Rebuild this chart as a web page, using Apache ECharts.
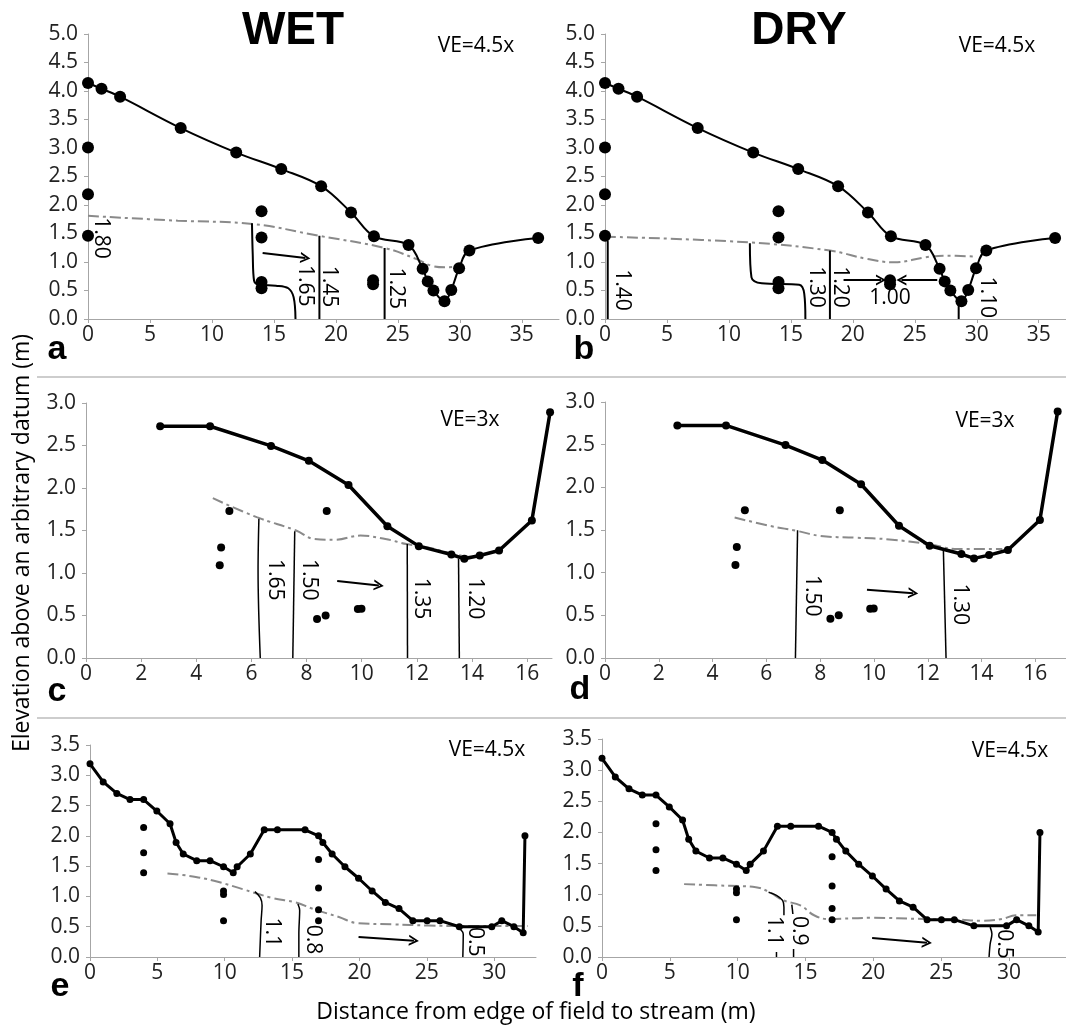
<!DOCTYPE html>
<html><head><meta charset="utf-8">
<script src="https://cdn.jsdelivr.net/npm/echarts@6/dist/echarts.min.js"></script>
<style>html,body{margin:0;padding:0;background:#fff}#c{width:1066px;height:1033px}</style>
</head><body><div id="c"></div>
<script>
// ---------------- tick labels ----------------
const xTicksAB = [0,5,10,15,20,25,30,35];
const yTicksAB = [0,0.5,1,1.5,2,2.5,3,3.5,4,4.5,5];
const xTicksCD = [0,2,4,6,8,10,12,14,16];
const yTicksCD = [0,0.5,1,1.5,2,2.5,3];
const xTicksEF = [0,5,10,15,20,25,30];
const yTicksEF = [0,0.5,1,1.5,2,2.5,3,3.5];

// ---------------- panels a / b ----------------
const groundAB = [[0,4.14],[1.09,4.04],[2.59,3.90],[7.48,3.35],[11.96,2.92],[15.59,2.63],[18.81,2.33],[21.22,1.87],[23.07,1.45],[25.86,1.30],[27.0,0.88],[27.41,0.66],[27.87,0.50],[28.76,0.31],[29.31,0.51],[29.94,0.89],[30.77,1.20],[36.32,1.42]];
const wellsAB = [[0,3.01],[0,2.19],[0,1.46],[14.0,1.89],[14.0,1.43],[14.0,0.65],[14.0,0.54],[23.0,0.68],[23.0,0.61]];
const waterA = [[0,1.81],[7.25,1.725],[13.29,1.667],[18.61,1.46],[23.93,1.246],[26.52,1.05],[27.67,0.936],[28.82,0.906],[29.82,0.918]];
const waterB = [[0,1.444],[11.55,1.345],[18.15,1.20],[21.17,1.053],[23.37,0.994],[25.85,1.082],[27.50,1.111],[29.97,1.094]];
const contoursA = [
  [[13.23,1.68],[13.29,1.14],[13.40,0.67],[13.86,0.60],[15.16,0.585],[16.16,0.54],[16.59,0.38],[16.74,0]],
  [[18.67,1.46],[18.67,0]],
  [[23.93,1.246],[23.93,0]]
];
const labelsA = [[1.06,1.42,'1.80'],[17.5,0.585,'1.65'],[19.47,0.57,'1.45'],[24.85,0.54,'1.25']];
const arrowsA = [[[14.09,1.158],[17.54,1.07]]];
const contoursB = [
  [[0.05,1.42],[0.22,1.36],[0.22,0]],
  [[11.69,1.327],[11.82,0.73],[12.65,0.626],[15.67,0.60],[16.08,0.44],[16.17,0]],
  [[18.15,1.2],[18.15,0]],
  [[28.54,0.32],[28.54,0]]
];
const labelsB = [[1.37,0.51,'1.40'],[17.0,0.56,'1.30'],[18.97,0.56,'1.20'],[30.8,0.38,'1.10']];
const labelsBflat = [[23.0,0.36,'1.00']];
const arrowsB = [[[19.25,0.684],[22.27,0.684]],[[26.81,0.684],[23.92,0.684]]];

// ---------------- panels c / d ----------------
const groundCD = [[2.69,2.726],[4.50,2.726],[6.71,2.495],[8.08,2.32],[9.52,2.036],[10.93,1.55],[12.07,1.316],[13.25,1.218],[13.72,1.167],[14.28,1.206],[14.98,1.265],[16.17,1.617],[16.83,2.89]];
const wellsCD = [[5.20,1.73],[4.90,1.30],[4.85,1.09],[8.73,1.73],[8.38,0.46],[8.69,0.50],[9.86,0.576],[9.99,0.58]];
const waterC = [[4.60,1.88],[6.19,1.657],[7.62,1.50],[8.27,1.40],[9.04,1.39],[9.95,1.44],[10.86,1.40],[11.63,1.34],[12.41,1.30],[13.32,1.225],[13.97,1.19],[15.0,1.28]];
const waterD = [[4.82,1.646],[6.12,1.549],[7.13,1.49],[8.02,1.43],[9.30,1.41],[10.57,1.39],[12.03,1.334],[13.11,1.276],[14.77,1.276]];
const contoursC = [[[6.27,1.637],[6.24,1.03],[6.32,0]],[[7.57,1.49],[7.50,0]],[[11.65,1.34],[11.66,0]],[[13.51,1.167],[13.54,0]]];
const labelsC = [[6.84,0.92,'1.65'],[8.07,0.92,'1.50'],[12.15,0.70,'1.35'],[14.1,0.70,'1.20']];
const arrowsC = [[[9.11,0.905],[10.62,0.854]]];
const contoursD = [[[7.16,1.498],[7.08,0]],[[12.58,1.276],[12.68,0]]];
const labelsD = [[7.71,0.73,'1.50'],[13.21,0.63,'1.30']];
const arrowsD = [[[9.74,0.80],[11.46,0.76]]];

// ---------------- panels e / f ----------------
const groundEF = [[0,3.19],[0.98,2.89],[1.99,2.70],[2.97,2.60],[3.98,2.60],[4.96,2.41],[5.94,2.20],[6.39,1.89],[6.92,1.70],[7.92,1.59],[8.91,1.59],[9.91,1.49],[10.63,1.39],[10.92,1.49],[11.90,1.70],[12.93,2.10],[13.91,2.10],[15.96,2.10],[16.96,2.00],[17.28,1.89],[17.97,1.70],[18.92,1.49],[19.93,1.30],[20.94,1.09],[21.92,0.90],[22.93,0.80],[23.96,0.60],[25.02,0.60],[25.97,0.60],[27.41,0.50],[29.82,0.50],[30.56,0.60],[31.46,0.50],[32.15,0.40],[32.28,2.00]];
const wellsEF = [[3.98,2.14],[3.98,1.72],[3.98,1.39],[9.91,1.09],[9.91,1.03],[9.91,0.60],[16.96,1.61],[16.96,1.14],[16.96,0.78],[16.96,0.60]];
const waterE = [[5.75,1.38],[7.34,1.34],[9.2,1.26],[11.32,1.12],[13.44,0.98],[15.29,0.90],[16.6,0.79],[18.47,0.66],[19.8,0.56],[22.45,0.54],[25.1,0.52],[27.75,0.51],[32.5,0.51]];
const waterF = [[6.05,1.17],[8.32,1.15],[11.34,1.12],[12.35,1.04],[13.36,0.91],[14.62,0.83],[15.63,0.67],[16.64,0.61],[19.91,0.63],[23.7,0.61],[26.2,0.60],[27.98,0.58],[29.49,0.61],[30.5,0.67],[32.01,0.67]];
const contoursE = [[[12.24,1.08],[12.64,0.98],[12.77,0.85],[12.70,0.60],[12.59,0]],[[15.43,0.875],[15.56,0.77],[15.5,0.38],[15.5,0]],[[27.17,0.50],[27.70,0.38],[27.67,0]]];
const labelsE = [[13.49,0.41,'1.1'],[16.57,0.29,'0.8'],[28.54,0.25,'0.5']];
const arrowsE = [[[19.93,0.33],[24.04,0.27]]];
const contoursF = [[[12.28,1.04],[12.86,0.99],[13.31,0.91],[13.41,0.80],[13.41,0.67]],[[12.86,0.08],[12.86,0]],[[13.99,0.84],[14.07,0.69]],[[14.12,0.13],[14.12,0]],[[28.61,0.48],[28.74,0.37],[28.61,0.21],[28.53,0]]];
const labelsF = [[12.65,0.42,'1.1'],[14.5,0.42,'0.9'],[29.62,0.21,'0.5']];
const arrowsF = [[[19.91,0.305],[23.95,0.23]]];

// ---------------- layout / style ----------------
const FONT = '"Open Sans"';
const AXC = '#a6a6a6';
const grids = [
  {left:88, top:34, width:471, height:285},
  {left:605, top:34, width:461, height:285},
  {left:86, top:403, width:466, height:255},
  {left:605, top:402, width:461, height:256},
  {left:90, top:745, width:446, height:212},
  {left:602, top:739, width:464, height:218}
];
const xMax = [38, 37.2, 16.9, 17.14, 33.1, 34.2];
const xT = [xTicksAB, xTicksAB, xTicksCD, xTicksCD, xTicksEF, xTicksEF];
const yT = [yTicksAB, yTicksAB, yTicksCD, yTicksCD, yTicksEF, yTicksEF];
const xInt = [5,5,2,2,5,5];

const xAxes = grids.map((g,i)=>({
  type:'value', gridIndex:i, min:0, max:xMax[i], interval:xInt[i],
  axisLine:{show:true, onZero:false, lineStyle:{color:AXC, width:1}},
  axisTick:{show:true, length:4, inside:false, lineStyle:{color:AXC}, customValues:xT[i]},
  axisLabel:{fontFamily:'Open Sans', fontSize:21, color:'#222', margin:6, customValues:xT[i]},
  splitLine:{show:false}
}));
const yAxes = grids.map((g,i)=>({
  type:'value', gridIndex:i, min:0, max:yT[i][yT[i].length-1], interval:0.5,
  axisLine:{show:true, onZero:false, lineStyle:{color:AXC, width:1}},
  axisTick:{show:true, length:4, lineStyle:{color:AXC}, customValues:yT[i]},
  axisLabel:{fontFamily:'Open Sans', fontSize:21, color:'#222', margin:10, customValues:yT[i], formatter:v=>Number(v).toFixed(1)},
  splitLine:{show:false}
}));

const chevron = 'path://M5,0 L10,10 L8.2,10 L5,3.6 L1.8,10 L0,10 Z';
const series = [];
function ground(gi, data, smooth, width, size){
  series.push({type:'line', xAxisIndex:gi, yAxisIndex:gi, data:data, smooth:smooth, symbol:'circle', symbolSize:size,
    showSymbol:true, showAllSymbol:true, lineStyle:{color:'#000', width:width}, itemStyle:{color:'#000', opacity:1}, z:6, animation:false, silent:true});
}
function wells(gi, data, size){
  series.push({type:'scatter', xAxisIndex:gi, yAxisIndex:gi, data:data, symbol:'circle', symbolSize:size, itemStyle:{color:'#000', opacity:1}, z:6, animation:false, silent:true});
}
function water(gi, data){
  series.push({type:'line', xAxisIndex:gi, yAxisIndex:gi, data:data, smooth:0.4, showSymbol:false, symbol:'none',
    lineStyle:{color:'#8a8a8a', width:2, type:[11,4,3,4]}, z:3, animation:false, silent:true});
}
function contours(gi, list, width){
  list.forEach(c=>series.push({type:'line', xAxisIndex:gi, yAxisIndex:gi, data:c, smooth:0.35, showSymbol:false, symbol:'none',
    lineStyle:{color:'#000', width:width}, z:4, animation:false, silent:true}));
}
function labels(gi, list, rot){
  series.push({type:'scatter', xAxisIndex:gi, yAxisIndex:gi, symbol:'circle', symbolSize:2, silent:true, animation:false, z:7,
    itemStyle:{color:'rgba(0,0,0,0)', opacity:1},
    data:list.map(d=>({value:[d[0],d[1]], name:d[2]})),
    label:{show:true, position:'inside', formatter:'{b}', rotate:rot, color:'#000', fontFamily:'Open Sans', fontSize:21},
    labelLayout:{hideOverlap:false}});
}
function arrows(gi, list){
  series.push({type:'line', xAxisIndex:gi, yAxisIndex:gi, data:[], showSymbol:false, animation:false, silent:true,
    markLine:{silent:true, animation:false, symbol:['none', chevron], symbolSize:[11,10],
      lineStyle:{color:'#000', width:2, type:'solid'}, label:{show:false},
      data:list.map(a=>[{coord:a[0]},{coord:a[1]}])}});
}

// a
ground(0, groundAB, 0.35, 2, 12); wells(0, wellsAB, 12); water(0, waterA); contours(0, contoursA, 2); labels(0, labelsA, -90); arrows(0, arrowsA);
// b
ground(1, groundAB, 0.35, 2, 12); wells(1, wellsAB, 12); water(1, waterB); contours(1, contoursB, 2); labels(1, labelsB, -90); labels(1, labelsBflat, 0); arrows(1, arrowsB);
// c
ground(2, groundCD, false, 3.5, 8); wells(2, wellsCD, 8); water(2, waterC); contours(2, contoursC, 1.5); labels(2, labelsC, -90); arrows(2, arrowsC);
// d
ground(3, groundCD, false, 3.5, 8); wells(3, wellsCD, 8); water(3, waterD); contours(3, contoursD, 1.5); labels(3, labelsD, -90); arrows(3, arrowsD);
// e
ground(4, groundEF, false, 3, 7); wells(4, wellsEF, 7); water(4, waterE); contours(4, contoursE, 1.5); labels(4, labelsE, -90); arrows(4, arrowsE);
// f
ground(5, groundEF, false, 3, 7); wells(5, wellsEF, 7); water(5, waterF); contours(5, contoursF, 1.5); labels(5, labelsF, -90); arrows(5, arrowsF);

function txt(x, y, s, font, rot){
  return {type:'text', x:x, y:y, rotation:rot||0, silent:true,
    style:{text:s, font:font, fill:'#000', textAlign:'center', textVerticalAlign:'middle'}};
}
const BOLD = '"Liberation Sans", Arial, sans-serif';
const graphic = [
  {type:'line', shape:{x1:37, y1:377, x2:1066, y2:377}, style:{stroke:'#bdbdbd', lineWidth:1.5}, silent:true},
  {type:'line', shape:{x1:37, y1:718, x2:1066, y2:718}, style:{stroke:'#bdbdbd', lineWidth:1.5}, silent:true},
  txt(293, 31, 'WET', 'bold 46px ' + BOLD),
  txt(799, 31, 'DRY', 'bold 46px ' + BOLD),
  txt(476, 46, 'VE=4.5x', '21px ' + FONT),
  txt(997, 46, 'VE=4.5x', '21px ' + FONT),
  txt(470, 420, 'VE=3x', '21px ' + FONT),
  txt(985, 421, 'VE=3x', '21px ' + FONT),
  txt(487, 750, 'VE=4.5x', '21px ' + FONT),
  txt(1010, 751, 'VE=4.5x', '21px ' + FONT),
  txt(57, 350, 'a', 'bold 34px ' + BOLD),
  txt(584, 350, 'b', 'bold 34px ' + BOLD),
  txt(57, 692, 'c', 'bold 34px ' + BOLD),
  txt(580, 690, 'd', 'bold 34px ' + BOLD),
  txt(60, 987, 'e', 'bold 34px ' + BOLD),
  txt(578, 987, 'f', 'bold 34px ' + BOLD),
  txt(536, 1012, 'Distance from edge of field to stream (m)', '23px ' + FONT),
  txt(22, 543, 'Elevation above an arbitrary datum (m)', '23px ' + FONT, Math.PI/2)
];

const chart = echarts.init(document.getElementById('c'), null, {renderer:'canvas'});
chart.setOption({
  animation:false,
  backgroundColor:'#fff',
  grid:grids,
  xAxis:xAxes,
  yAxis:yAxes,
  series:series,
  graphic:graphic
});
</script></body></html>
